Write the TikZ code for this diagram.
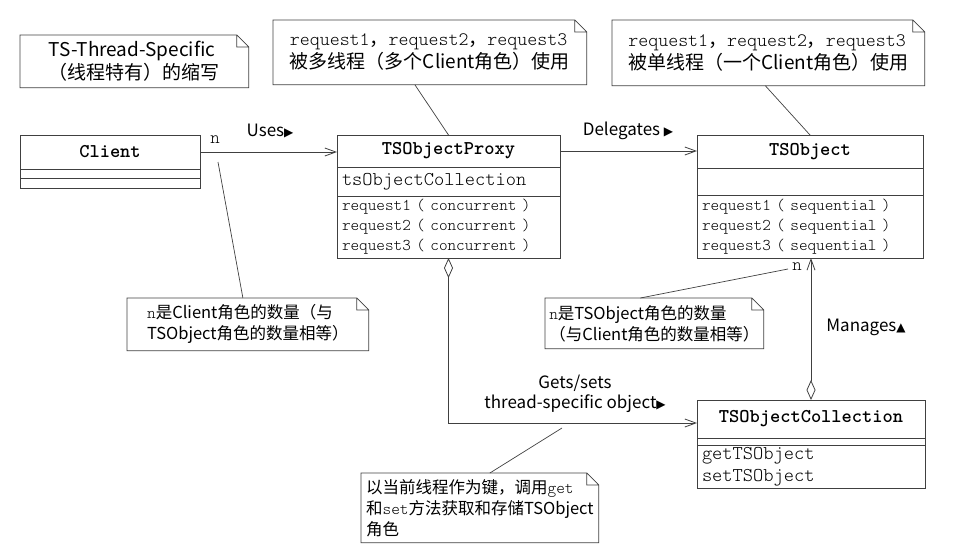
\documentclass[tikz,border=0pt]{standalone}
\usepackage{fontspec}
\setmainfont{Noto Sans CJK SC}
\newfontfamily\monofont{Latin Modern Mono Light}
\newfontfamily\symfont{DejaVu Sans}
\usetikzlibrary{arrows.meta, positioning}

\newcommand{\mono}[1]{{\monofont #1}}
\newcommand{\rtri}{{\symfont\fontsize{12}{12}\selectfont ▶}}
\newcommand{\utri}{{\symfont\fontsize{12}{12}\selectfont ▲}}
\newcommand{\notefold}[1]{%
  \draw[notedraw] (#1.south west) -- (#1.south east) -- ([yshift=-12pt]#1.north east)
    -- ([xshift=-12pt]#1.north east) -- (#1.north west) -- cycle
    ([xshift=-12pt]#1.north east) |- ([yshift=-12pt]#1.north east);}

\begin{document}
\begin{tikzpicture}[
    x=1pt, y=-1pt,
    line width=0.8pt,
    cls/.style={draw=black!75, inner sep=0pt, outer sep=0pt},
    clsname/.style={cls, anchor=north, font=\monofont\bfseries\fontsize{19.5}{22}\selectfont},
    clspart/.style={cls, anchor=north, inner xsep=5pt, align=left},
    notebox/.style={anchor=north west, inner sep=0pt, align=left,
                    font=\fontsize{19}{23}\selectfont},
    smallnote/.style={font=\fontsize{16.5}{21}\selectfont},
    notedraw/.style={draw=black!75, line width=0.7pt},
    lbl/.style={font=\fontsize{17}{20}\selectfont},
    mult/.style={font=\monofont\fontsize{18}{18}\selectfont},
    assoc/.style={draw=black!75, -{Straight Barb[length=11pt,width=8pt]}},
    aggr/.style={draw=black!75, {Diamond[open,length=20pt,width=9pt]}-{Straight Barb[length=11pt,width=8pt]}}
]
   \useasboundingbox (0,0) rectangle (956,552);

   % Classes
   \node[clsname, minimum width=180pt, minimum height=34pt] (client) at (110,135) {Client};
   \node[clspart, below=0pt of client, minimum width=180pt, minimum height=9pt] (clientattr) {};
   \node[clspart, below=0pt of clientattr, minimum width=180pt, minimum height=10pt] (clientops) {};

   \node[clsname, minimum width=223pt, minimum height=32pt] (proxy) at (448.5,135) {TSObjectProxy};
   \node[clspart, below=0pt of proxy, text width=213pt, minimum height=29pt,
         font=\monofont\fontsize{19.5}{22}\selectfont] (proxyattr) {tsObjectCollection};
   \node[clspart, below=0pt of proxyattr, text width=213pt, minimum height=62pt,
         font=\monofont\fontsize{16.4}{20}\selectfont] (proxyops)
         {request1 ( concurrent )\\request2 ( concurrent )\\request3 ( concurrent )};

   \node[clsname, minimum width=226pt, minimum height=33pt] (tsobj) at (810,135) {TSObject};
   \node[clspart, below=0pt of tsobj, minimum width=226pt, minimum height=27pt] (tsobjattr) {};
   \node[clspart, below=0pt of tsobjattr, text width=216pt, minimum height=63pt,
         font=\monofont\fontsize{16.4}{20}\selectfont] (tsobjops)
         {request1 ( sequential )\\request2 ( sequential )\\request3 ( sequential )};

   \node[clsname, minimum width=228pt, minimum height=38pt] (coll) at (811,400) {TSObjectCollection};
   \node[clspart, below=0pt of coll, minimum width=228pt, minimum height=7pt] (collattr) {};
   \node[clspart, below=0pt of collattr, text width=218pt, minimum height=43pt,
         font=\monofont\fontsize{19.5}{22}\selectfont] (collops) {getTSObject\\setTSObject};

   % Notes
   \node[notebox, minimum width=228pt, minimum height=52pt] (tsnote) at (20,35)
         {TS-Thread-Specific\\（线程特有）的缩写};
   \node[notebox, minimum width=313pt, minimum height=64pt] (proxynote) at (273,20)
         {\mono{request1}，\mono{request2}，\mono{request3}\\被多线程（多个Client角色）使用};
   \node[notebox, minimum width=312pt, minimum height=65pt] (objnote) at (612,20)
         {\mono{request1}，\mono{request2}，\mono{request3}\\被单线程（一个Client角色）使用};
   \node[notebox, smallnote, minimum width=241pt, minimum height=52pt] (clientnote) at (127,298)
         {\mono{n}是Client角色的数量（与\\TSObject角色的数量相等）};
   \node[notebox, smallnote, minimum width=218pt, minimum height=50pt] (tsobjnote) at (545,298)
         {\mono{n}是TSObject角色的数量\\（与Client角色的数量相等）};
   \node[notebox, smallnote, minimum width=237pt, minimum height=69pt] (getnote) at (361,473)
         {以当前线程作为键，调用\mono{get}\\和\mono{set}方法获取和存储TSObject\\角色};
   \foreach \n in {tsnote, proxynote, objnote, clientnote, tsobjnote, getnote}
      \notefold{\n};

   % Note anchors
   \coordinate (clientend) at (218,162);
   \coordinate (tsobjend) at (788,269);
   \coordinate (getsend) at (562,428);

   % Relations
   \draw[assoc] (client.east) -- (client.east -| proxy.west);
   \node[mult] (usesn) at (215,140) {n};
   \node[lbl] (uses) at (270,131) {Uses\rtri};

   \draw[assoc] (proxy.east) -- (proxy.east -| tsobj.west);
   \node[lbl] (delegates) at (628,131) {Delegates \rtri};

   \draw[aggr] (proxyops.south) |- ([yshift=-4pt]coll.west);
   \node[lbl, align=center] (gets) at (575,394) {Gets/sets\\thread-specific object\rtri};

   \draw[aggr] (coll.north) -- (coll.north |- tsobjops.south);
   \node[mult] (managesn) at (797,267) {n};
   \node[lbl] (manages) at (866,327) {Manages\utri};

   % Note links
   \draw[notedraw] ([xshift=-15pt]proxynote.south) -- (proxy.north);
   \draw[notedraw] ([xshift=-3pt]objnote.south) -- (tsobj.north);
   \draw[notedraw] ([xshift=-5pt]clientnote.north) -- (clientend);
   \draw[notedraw] ([xshift=-14pt]tsobjnote.north) -- (tsobjend);
   \draw[notedraw] ([xshift=10pt]getnote.north) -- (getsend);

\end{tikzpicture}
\end{document}
